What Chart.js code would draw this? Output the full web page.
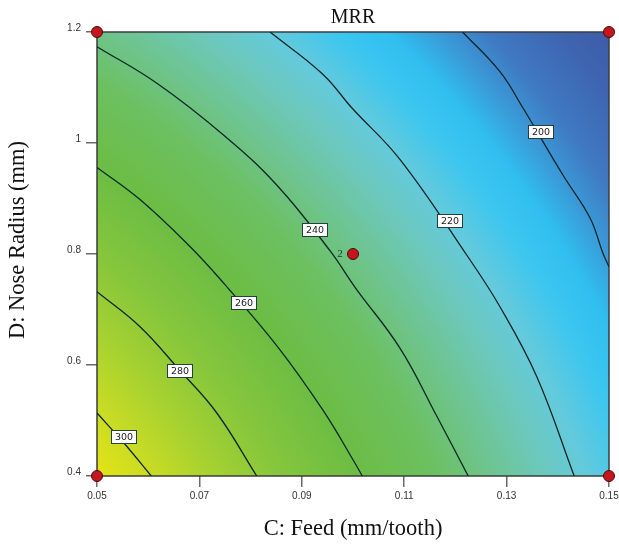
<!DOCTYPE html>
<html><head><meta charset="utf-8">
<script src="https://cdn.jsdelivr.net/npm/chart.js@4.4.1/dist/chart.umd.min.js"></script>
<style>html,body{margin:0;padding:0;background:#fff}#wrap{width:619px;height:544px}</style>
</head><body><div id="wrap"><canvas id="c" width="619" height="544"></canvas></div>
<script>
// ---- text ----
const chartTitle = 'MRR';
const xTitle = 'C: Feed (mm/tooth)';
const yTitle = 'D: Nose Radius (mm)';

// ---- ticks ----
const xTicks = [0.05, 0.07, 0.09, 0.11, 0.13, 0.15];
const xTickLabels = ['0.05', '0.07', '0.09', '0.11', '0.13', '0.15'];
const yTicks = [0.4, 0.6, 0.8, 1.0, 1.2];
const yTickLabels = ['0.4', '0.6', '0.8', '1', '1.2'];

// ---- contour lines (Feed, Nose Radius) ----
const contourLevels = [300, 280, 260, 240, 220, 200];
const feed300 = [0.05, 0.0553, 0.0606];
const nose300 = [0.5135, 0.459, 0.40];
const feed280 = [0.05, 0.0584, 0.0662, 0.0734, 0.0812];
const nose280 = [0.732, 0.669, 0.590, 0.5135, 0.40];
const feed260 = [0.05, 0.0584, 0.0682, 0.0746, 0.0851, 0.0941, 0.1004, 0.1018];
const nose260 = [0.956, 0.898, 0.813, 0.749, 0.635, 0.519, 0.423, 0.40];
const feed240 = [0.05, 0.0617, 0.0747, 0.0851, 0.0955, 0.1004, 0.1092, 0.1163, 0.1225];
const nose240 = [1.1735, 1.1076, 1.0144, 0.9243, 0.806, 0.740, 0.630, 0.509, 0.40];
const feed220 = [0.0838, 0.0941, 0.0998, 0.1092, 0.1222, 0.1287, 0.1359, 0.1432];
const nose220 = [1.20, 1.124, 1.063, 0.970, 0.7982, 0.705, 0.579, 0.40];
const feed200 = [0.1214, 0.1287, 0.1332, 0.1410, 0.1463, 0.1488, 0.15];
const nose200 = [1.20, 1.1285, 1.063, 0.9423, 0.8649, 0.8018, 0.7771];

// ---- contour label positions ----
const labelFeed = [0.0551, 0.0662, 0.0787, 0.0924, 0.1188, 0.1367];
const labelNose = [0.472, 0.590, 0.7135, 0.845, 0.8595, 1.0216];

// ---- design points ----
const designFeed = [0.05, 0.05, 0.15, 0.15, 0.10];
const designNose = [0.4, 1.2, 0.4, 1.2, 0.8];
const designReplicates = [1, 1, 1, 1, 2];

// ---- styles ----
const GRAD_CENTER = { fx: -0.945, fy: 1.822 }; // in chart-area fractions
const GRAD_R = 1300; // reference px (plot width 512)
const GRAD_STOPS = [
  [0, '#f4ec00'], [606, '#e4e414'], [650, '#cadc24'], [700, '#a8d230'],
  [760, '#86c63c'], [830, '#6cbd44'], [900, '#6cc060'], [950, '#6ec48e'],
  [1000, '#6cc8bc'], [1040, '#64cadc'], [1085, '#3cc6f0'], [1120, '#30bff0'],
  [1155, '#3a9ad8'], [1190, '#3f7ac2'], [1245, '#3e64b0'], [1300, '#3c58a6']
];
const LINE_COLOR = '#0d2626';

const feeds = [feed300, feed280, feed260, feed240, feed220, feed200];
const noses = [nose300, nose280, nose260, nose240, nose220, nose200];

const contourSets = contourLevels.map((lv, i) => ({
  type: 'line',
  label: String(lv),
  data: feeds[i].map((f, j) => ({ x: f, y: noses[i][j] })),
  borderColor: LINE_COLOR,
  borderWidth: 1.3,
  pointRadius: 0,
  tension: 0.4,
  fill: false,
  order: 2
}));

const pointSet = {
  type: 'scatter',
  label: 'design',
  data: designFeed.map((f, i) => ({ x: f, y: designNose[i] })),
  pointRadius: 5.5,
  backgroundColor: '#c4161c',
  borderColor: '#4a0a0a',
  borderWidth: 1,
  clip: false,
  order: 0
};

const bgPlugin = {
  id: 'bg',
  beforeDatasetsDraw(chart) {
    const { ctx, chartArea: a } = chart;
    const w = a.right - a.left, h = a.bottom - a.top;
    const cx = a.left + GRAD_CENTER.fx * w, cy = a.top + GRAD_CENTER.fy * h;
    const R = GRAD_R / 512 * w;
    const g = ctx.createRadialGradient(cx, cy, 0, cx, cy, R);
    GRAD_STOPS.forEach(([r, c]) => g.addColorStop(r / GRAD_R, c));
    ctx.save();
    ctx.fillStyle = g;
    ctx.fillRect(a.left, a.top, w, h);
    ctx.strokeStyle = '#3c3c3c';
    ctx.lineWidth = 1.5;
    ctx.strokeRect(a.left, a.top, w, h);
    ctx.restore();
  },
  afterDatasetsDraw(chart) {
    const { ctx, scales: { x, y } } = chart;
    ctx.save();
    ctx.font = '9.5px "DejaVu Sans"';
    ctx.textAlign = 'center';
    ctx.textBaseline = 'middle';
    contourLevels.forEach((lv, i) => {
      const px = x.getPixelForValue(labelFeed[i]);
      const py = y.getPixelForValue(labelNose[i]);
      const t = String(lv);
      const bw = Math.round(ctx.measureText(t).width + 7), bh = 13;
      const bx = Math.round(px - bw / 2), by = Math.round(py - bh / 2);
      ctx.fillStyle = '#ffffff';
      ctx.fillRect(bx, by, bw, bh);
      ctx.strokeStyle = '#24403c';
      ctx.lineWidth = 1;
      ctx.strokeRect(bx + 0.5, by + 0.5, bw, bh);
      ctx.fillStyle = '#222';
      ctx.fillText(t, bx + bw / 2 + 0.5, by + bh / 2 + 1);
    });
    ctx.font = '11px "Liberation Serif"';
    ctx.fillStyle = '#1b3b36';
    designReplicates.forEach((n, i) => {
      if (n > 1) {
        const px = x.getPixelForValue(designFeed[i]);
        const py = y.getPixelForValue(designNose[i]);
        ctx.fillText(String(n), px - 13, py);
      }
    });
    ctx.restore();
  },
  afterDraw(chart) {
    const { ctx, chartArea: a } = chart;
    ctx.save();
    ctx.fillStyle = '#111';
    ctx.textAlign = 'center';
    ctx.textBaseline = 'middle';
    ctx.font = '20px "Liberation Serif"';
    ctx.fillText(chartTitle, (a.left + a.right) / 2, 18);
    ctx.translate(18, 240);
    ctx.rotate(-Math.PI / 2);
    ctx.font = '22.5px "Liberation Serif"';
    ctx.fillText(yTitle, 0, 0);
    ctx.restore();
  }
};

new Chart(document.getElementById('c'), {
  data: { datasets: [pointSet, ...contourSets] },
  options: {
    responsive: false,
    devicePixelRatio: 1,
    animation: false,
    events: [],
    layout: { padding: { left: 0, right: 10, top: 32, bottom: 0 } },
    plugins: {
      legend: { display: false },
      tooltip: { enabled: false },
      title: { display: false }
    },
    scales: {
      x: {
        type: 'linear', min: 0.05, max: 0.15,
        afterBuildTicks: s => { s.ticks = xTicks.map(v => ({ value: v })); },
        afterFit: s => { s.height = 68; s.paddingRight = 0; s.paddingLeft = 0; },
        ticks: {
          autoSkip: false, maxRotation: 0, padding: 3, color: '#333',
          font: { family: 'Liberation Sans', size: 10 },
          callback: (v, i) => xTickLabels[i]
        },
        grid: { drawOnChartArea: false, drawTicks: true, tickLength: 11, color: '#6a6a6a', lineWidth: 1.5 },
        border: { display: false },
        title: {
          display: true, text: xTitle, color: '#111',
          font: { family: 'Liberation Serif', size: 22.5, weight: 'normal' },
          padding: { top: 0, bottom: 1 }
        }
      },
      y: {
        type: 'linear', min: 0.4, max: 1.2,
        afterBuildTicks: s => { s.ticks = yTicks.map(v => ({ value: v })); },
        afterFit: s => { s.width = 97; s.paddingTop = 0; s.paddingBottom = 0; },
        ticks: {
          autoSkip: false, padding: 5, color: '#333', labelOffset: -4,
          font: { family: 'Liberation Sans', size: 10 },
          callback: (v, i) => yTickLabels[i]
        },
        grid: { drawOnChartArea: false, drawTicks: true, tickLength: 11, color: '#6a6a6a', lineWidth: 1.5 },
        border: { display: false },
        title: { display: false }
      }
    }
  },
  plugins: [bgPlugin]
});
</script></body></html>
